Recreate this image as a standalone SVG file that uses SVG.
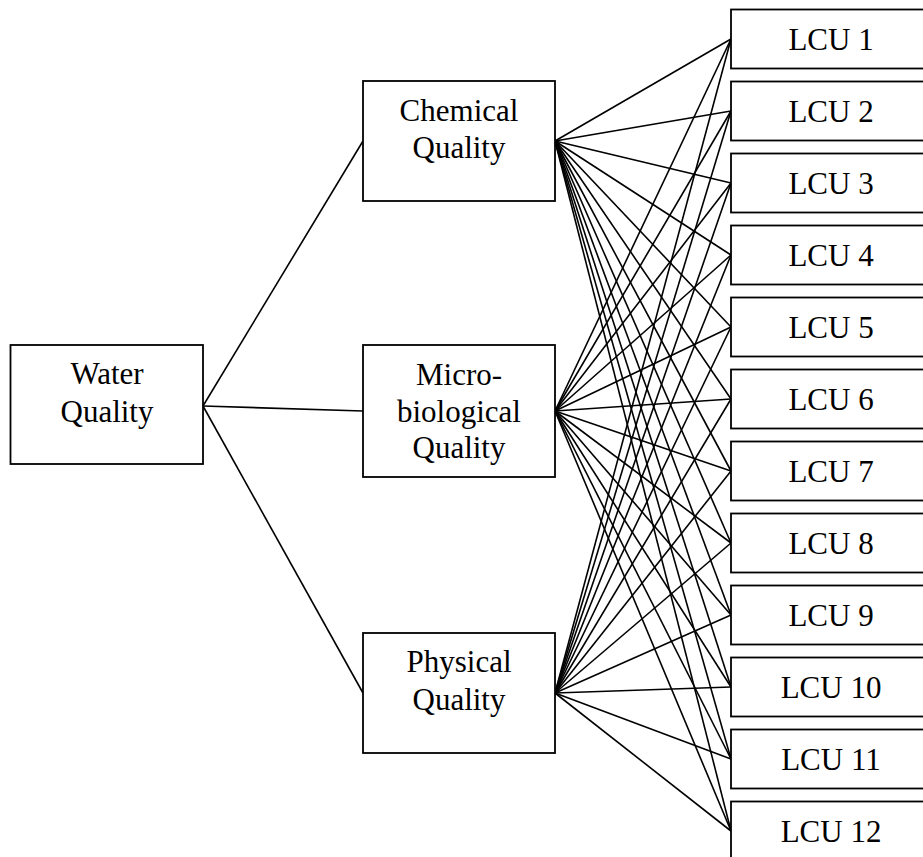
<svg xmlns="http://www.w3.org/2000/svg" width="923" height="857" viewBox="0 0 923 857">
  <style>
    .box { fill: #ffffff; stroke: #000000; stroke-width: 1.8; }
    .lbl { font-family: "Liberation Serif", "Times New Roman", serif; font-size: 31px; fill: #000000; text-anchor: middle; }
    .edge { stroke: #000000; stroke-width: 1.6; fill: none; }
  </style>
  <rect width="923" height="857" fill="#ffffff"/>

  <!-- connectors -->
  <g id="connectors" class="edge">
    <!-- goal to criteria -->
    <line x1="203" y1="406" x2="363" y2="141"/>
    <line x1="203" y1="406" x2="363" y2="411"/>
    <line x1="203" y1="406" x2="363" y2="693"/>
    <!-- Chemical Quality to each LCU -->
    <line x1="555" y1="141" x2="731" y2="39"/>
    <line x1="555" y1="141" x2="731" y2="111"/>
    <line x1="555" y1="141" x2="731" y2="183"/>
    <line x1="555" y1="141" x2="731" y2="255"/>
    <line x1="555" y1="141" x2="731" y2="327"/>
    <line x1="555" y1="141" x2="731" y2="399"/>
    <line x1="555" y1="141" x2="731" y2="471"/>
    <line x1="555" y1="141" x2="731" y2="543"/>
    <line x1="555" y1="141" x2="731" y2="615"/>
    <line x1="555" y1="141" x2="731" y2="687"/>
    <line x1="555" y1="141" x2="731" y2="759"/>
    <line x1="555" y1="141" x2="731" y2="831"/>
    <!-- Micro-biological Quality to each LCU -->
    <line x1="555" y1="411" x2="731" y2="39"/>
    <line x1="555" y1="411" x2="731" y2="111"/>
    <line x1="555" y1="411" x2="731" y2="183"/>
    <line x1="555" y1="411" x2="731" y2="255"/>
    <line x1="555" y1="411" x2="731" y2="327"/>
    <line x1="555" y1="411" x2="731" y2="399"/>
    <line x1="555" y1="411" x2="731" y2="471"/>
    <line x1="555" y1="411" x2="731" y2="543"/>
    <line x1="555" y1="411" x2="731" y2="615"/>
    <line x1="555" y1="411" x2="731" y2="687"/>
    <line x1="555" y1="411" x2="731" y2="759"/>
    <line x1="555" y1="411" x2="731" y2="831"/>
    <!-- Physical Quality to each LCU -->
    <line x1="555" y1="693" x2="731" y2="39"/>
    <line x1="555" y1="693" x2="731" y2="111"/>
    <line x1="555" y1="693" x2="731" y2="183"/>
    <line x1="555" y1="693" x2="731" y2="255"/>
    <line x1="555" y1="693" x2="731" y2="327"/>
    <line x1="555" y1="693" x2="731" y2="399"/>
    <line x1="555" y1="693" x2="731" y2="471"/>
    <line x1="555" y1="693" x2="731" y2="543"/>
    <line x1="555" y1="693" x2="731" y2="615"/>
    <line x1="555" y1="693" x2="731" y2="687"/>
    <line x1="555" y1="693" x2="731" y2="759"/>
    <line x1="555" y1="693" x2="731" y2="831"/>
  </g>

  <!-- goal -->
  <g id="water-quality">
    <rect class="box" x="10.5" y="345" width="192.5" height="119"/>
    <text class="lbl" x="107" y="384">Water</text>
    <text class="lbl" x="107" y="421.7">Quality</text>
  </g>

  <!-- criteria -->
  <g id="chemical-quality">
    <rect class="box" x="363" y="81" width="192" height="120"/>
    <text class="lbl" x="459" y="120.7">Chemical</text>
    <text class="lbl" x="459" y="158.3">Quality</text>
  </g>
  <g id="microbiological-quality">
    <rect class="box" x="363" y="345" width="192" height="132"/>
    <text class="lbl" x="459" y="385">Micro-</text>
    <text class="lbl" x="459" y="421.7">biological</text>
    <text class="lbl" x="459" y="458.3">Quality</text>
  </g>
  <g id="physical-quality">
    <rect class="box" x="363" y="633" width="192" height="120"/>
    <text class="lbl" x="459" y="672.3">Physical</text>
    <text class="lbl" x="459" y="710">Quality</text>
  </g>

  <!-- alternatives -->
  <g id="lcu-1"><rect class="box" x="731" y="9.5" width="200" height="59"/><text class="lbl" x="831" y="50">LCU 1</text></g>
  <g id="lcu-2"><rect class="box" x="731" y="81.5" width="200" height="59"/><text class="lbl" x="831" y="122">LCU 2</text></g>
  <g id="lcu-3"><rect class="box" x="731" y="153.5" width="200" height="59"/><text class="lbl" x="831" y="194">LCU 3</text></g>
  <g id="lcu-4"><rect class="box" x="731" y="225.5" width="200" height="59"/><text class="lbl" x="831" y="266">LCU 4</text></g>
  <g id="lcu-5"><rect class="box" x="731" y="297.5" width="200" height="59"/><text class="lbl" x="831" y="338">LCU 5</text></g>
  <g id="lcu-6"><rect class="box" x="731" y="369.5" width="200" height="59"/><text class="lbl" x="831" y="410">LCU 6</text></g>
  <g id="lcu-7"><rect class="box" x="731" y="441.5" width="200" height="59"/><text class="lbl" x="831" y="482">LCU 7</text></g>
  <g id="lcu-8"><rect class="box" x="731" y="513.5" width="200" height="59"/><text class="lbl" x="831" y="554">LCU 8</text></g>
  <g id="lcu-9"><rect class="box" x="731" y="585.5" width="200" height="59"/><text class="lbl" x="831" y="626">LCU 9</text></g>
  <g id="lcu-10"><rect class="box" x="731" y="657.5" width="200" height="59"/><text class="lbl" x="831" y="698">LCU 10</text></g>
  <g id="lcu-11"><rect class="box" x="731" y="729.5" width="200" height="59"/><text class="lbl" x="831" y="770">LCU 11</text></g>
  <g id="lcu-12"><rect class="box" x="731" y="801.5" width="200" height="59"/><text class="lbl" x="831" y="842">LCU 12</text></g>
</svg>
